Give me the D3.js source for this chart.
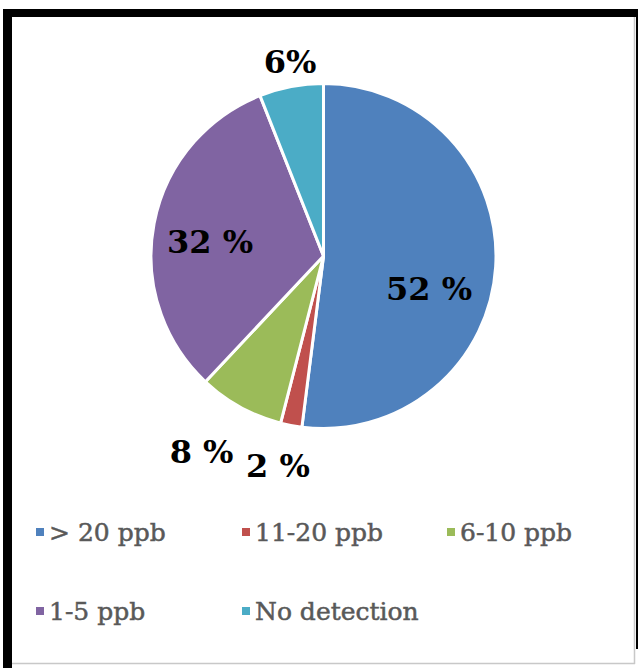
<!DOCTYPE html>
<html>
<head>
<meta charset="utf-8">
<script src="https://cdn.jsdelivr.net/npm/d3@7"></script>
<style>
  html, body { margin: 0; padding: 0; background: #fff; }
  svg { display: block; }
</style>
</head>
<body>
<svg id="chart" width="638" height="668"></svg>
<script>
// Share of samples by concentration class
const categories = ["> 20 ppb", "11-20 ppb", "6-10 ppb", "1-5 ppb", "No detection"];
const values = [52, 2, 8, 32, 6];
const labels = ["52 %", "2 %", "8 %", "32 %", "6%"];
const colors = ["#4F81BD", "#C0504D", "#9BBB59", "#8064A2", "#4BACC6"];

// Label anchors, as offsets from the pie centre in units of the radius
const labelAnchors = [[0.612, 0.255], [-0.264, 1.281], [-0.707, 1.2], [-0.658, -0.017], [-0.194, -1.061]];

const svg = d3.select("#chart");

// Frame
svg.append("rect").attr("x", 0).attr("y", 0).attr("width", 638).attr("height", 668).attr("fill", "#fff");
svg.append("line").attr("x1", 634.5).attr("y1", 17).attr("x2", 634.5).attr("y2", 664).attr("stroke", "#c8c8c8").attr("stroke-width", 1.5);
svg.append("line").attr("x1", 12).attr("y1", 663.5).attr("x2", 635).attr("y2", 663.5).attr("stroke", "#c8c8c8").attr("stroke-width", 1.5);
svg.append("rect").attr("x", 3).attr("y", 9).attr("width", 9).attr("height", 659).attr("fill", "#000");
svg.append("rect").attr("x", 3).attr("y", 9).attr("width", 635).attr("height", 8).attr("fill", "#000");
svg.append("rect").attr("x", 636).attr("y", 9).attr("width", 2).attr("height", 640).attr("fill", "#000");

// Pie
const cx = 323.5, cy = 256, radius = 172.5;
const pie = d3.pie().sort(null).value(d => d)(values);
const arc = d3.arc().innerRadius(0).outerRadius(radius);

const g = svg.append("g").attr("transform", `translate(${cx},${cy})`);
g.selectAll("path.slice")
  .data(pie)
  .join("path")
  .attr("class", "slice")
  .attr("d", arc)
  .attr("fill", (d, i) => colors[i])
  .attr("stroke", "#fff")
  .attr("stroke-width", 3)
  .attr("stroke-linejoin", "round");

g.selectAll("text.value")
  .data(pie)
  .join("text")
  .attr("class", "value")
  .attr("x", (d, i) => labelAnchors[i][0] * radius)
  .attr("y", (d, i) => labelAnchors[i][1] * radius)
  .attr("text-anchor", "middle")
  .attr("font-family", "'DejaVu Serif', serif")
  .attr("font-weight", "bold")
  .attr("font-size", 32)
  .attr("fill", "#000")
  .text((d, i) => labels[i]);

// Legend
const legendX = [36, 242, 447];
const legendRowY = [541, 620];
const legend = svg.append("g");
categories.forEach((c, i) => {
  const col = i % 3, row = Math.floor(i / 3);
  const x = legendX[col], y = legendRowY[row];
  legend.append("rect")
    .attr("x", x).attr("y", y - 13).attr("width", 8).attr("height", 8)
    .attr("fill", colors[i]);
  legend.append("text")
    .attr("x", x + 13).attr("y", y)
    .attr("font-family", "'DejaVu Serif', serif")
    .attr("font-size", 25)
    .attr("fill", "#595959")
    .attr("stroke", "#595959")
    .attr("stroke-width", 0.5)
    .text(c);
});
</script>
</body>
</html>
